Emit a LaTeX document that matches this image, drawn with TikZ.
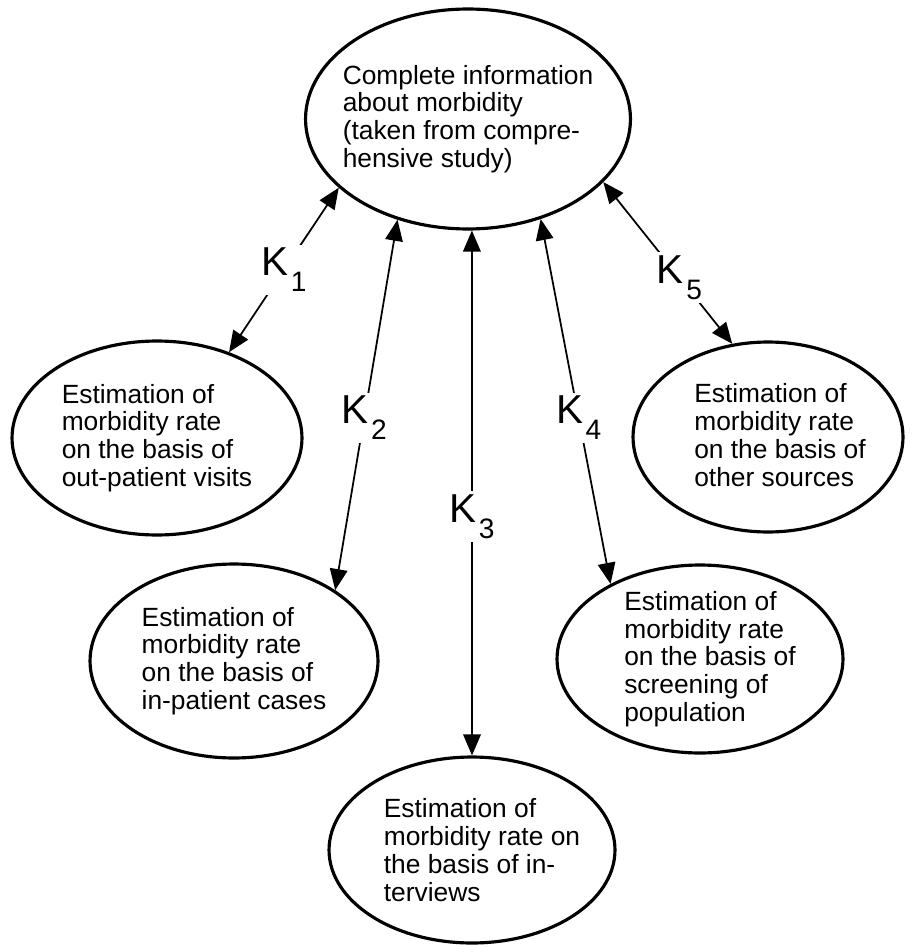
\documentclass[tikz,border=0pt]{standalone}
\usepackage{fontspec}
\setmainfont{Liberation Sans}
\usetikzlibrary{shapes.geometric,arrows.meta,positioning,calc}

\newcommand{\ksub}[1]{K\kern1.5pt\raisebox{-9pt}{\fontsize{16}{16}\selectfont #1}}

\tikzset{
  blob/.style={draw, ellipse, line width=1.8pt, inner sep=0pt},
  txt/.style={align=left, inner sep=0pt, font=\fontsize{15}{15.8}\selectfont},
  klab/.style={fill=white, inner sep=2pt, font=\fontsize{23}{23}\selectfont},
  link/.style={<->, line width=1pt},
  >={Triangle[length=12pt,width=10pt]}
}

\begin{document}
\begin{tikzpicture}[x=0.02cm, y=-0.02cm]
\useasboundingbox (0,0) rectangle (920,945);

% ellipses
\node[blob, minimum width=6.5cm, minimum height=4.4cm] (info) at (468,119) {};
\node[blob, minimum width=5.8cm, minimum height=3.88cm] (outp) at (157,438) {};
\node[blob, minimum width=5.76cm, minimum height=3.88cm] (inp) at (234,661) {};
\node[blob, minimum width=5.72cm, minimum height=3.72cm] (intv) at (472,850) {};
\node[blob, minimum width=5.72cm, minimum height=3.76cm] (scrn) at (700,659) {};
\node[blob, minimum width=5.4cm, minimum height=3.8cm] (othr) at (768,437) {};

% texts
\node[txt] (info-t) at (info) {Complete information\\about morbidity\\(taken from compre-\\hensive study)};
\node[txt] (outp-t) at (outp) {Estimation of\\morbidity rate\\on the basis of\\out-patient visits};
\node[txt] (inp-t) at (inp) {Estimation of\\morbidity rate\\on the basis of\\in-patient cases};
\node[txt] (intv-t) at ($(intv)+(10,0)$) {Estimation of\\morbidity rate on\\the basis of in-\\terviews};
\node[txt] (scrn-t) at ($(scrn)+(10,0)$) {Estimation of\\morbidity rate\\on the basis of\\screening of\\population};
\node[txt] (othr-t) at ($(othr)+(12,-2)$) {Estimation of\\morbidity rate\\on the basis of\\other sources};

% connectors
\draw[link] (info.208) -- node[klab, pos=0.5] {\ksub{1}} (outp.50);
\draw[link] (info.235.3) -- node[klab, pos=0.535] {\ksub{2}} (inp.35.3);
\draw[link] (info.272) -- node[klab, pos=0.545] {\ksub{3}} (intv.north);
\draw[link] (info.306.4) -- node[klab, pos=0.545] {\ksub{4}} (scrn.140.7);
\draw[link] (info.335) -- node[klab, pos=0.59] {\ksub{5}} (othr.111.4);
\end{tikzpicture}
\end{document}
